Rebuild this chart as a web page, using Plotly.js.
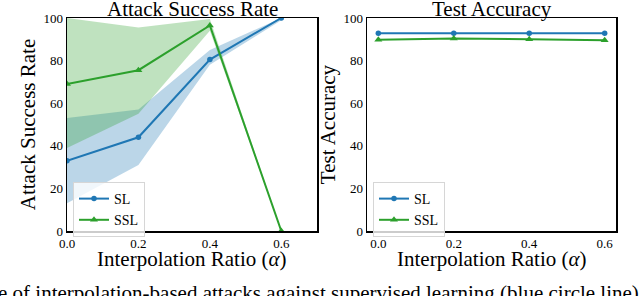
<!DOCTYPE html>
<html>
<head>
<meta charset="utf-8">
<script src="https://cdn.plot.ly/plotly-3.0.1.min.js"></script>
<style>html,body{margin:0;padding:0;background:#fff;}#chart{width:640px;height:296px;}</style>
</head>
<body>
<div id="chart"></div>
<script>
// ---- data ----
const ratios = [0.0, 0.2, 0.4, 0.6];
const xTickVals = [0.0, 0.2, 0.4, 0.6];
const xTickText = ["0.0", "0.2", "0.4", "0.6"];
const yTickVals = [0, 20, 40, 60, 80, 100];
const yTickText = ["0", "20", "40", "60", "80", "100"];

const slAsr = [33, 44, 80.5, 100];
const slAsrLow = [13, 31, 78, 99];
const slAsrHigh = [53, 57, 85, 100];

const sslAsr = [69, 75.5, 96.5, 0];
const sslAsrLow = [39, 55, 94, 0];
const sslAsrHigh = [100, 95.5, 99.5, 0];

const slAcc = [92.8, 92.8, 92.8, 92.8];
const sslAcc = [89.8, 90.4, 90.0, 89.5];

const seriesNames = ["SL", "SSL"];
const panelTitles = ["Attack Success Rate", "Test Accuracy"];
const yTitles = ["Attack Success Rate", "Test Accuracy"];
const xTitle = "Interpolation Ratio (<i>α</i>)";
const captionText = "e of interpolation-based attacks against supervised learning (blue circle line)";

// ---- styles ----
const BLUE = "#1f77b4", GREEN = "#2ca02c";
const BLUE_FILL = "rgba(31,119,180,0.3)", GREEN_FILL = "rgba(44,160,44,0.3)";
const FONT = "'Liberation Serif', 'Times New Roman', serif";

function band(x, lo, hi, fill, xa, ya) {
  return [
    {x: x, y: lo, type: "scatter", mode: "lines", line: {width: 0, color: fill}, showlegend: false, hoverinfo: "skip", xaxis: xa, yaxis: ya},
    {x: x, y: hi, type: "scatter", mode: "lines", line: {width: 0, color: fill}, fill: "tonexty", fillcolor: fill, showlegend: false, hoverinfo: "skip", xaxis: xa, yaxis: ya}
  ];
}
function line(x, y, name, color, symbol, size, xa, ya, lg, show) {
  return {x: x, y: y, name: name, type: "scatter", mode: "lines+markers",
    line: {color: color, width: 2}, marker: {color: color, symbol: symbol, size: size},
    xaxis: xa, yaxis: ya, legend: lg, showlegend: show};
}

const traces = [].concat(
  band(ratios, slAsrLow, slAsrHigh, BLUE_FILL, "x", "y"),
  band(ratios, sslAsrLow, sslAsrHigh, GREEN_FILL, "x", "y"),
  [line(ratios, slAsr, seriesNames[0], BLUE, "circle", 5.5, "x", "y", "legend", true),
   line(ratios, sslAsr, seriesNames[1], GREEN, "triangle-up", 7, "x", "y", "legend", true),
   line(ratios, slAcc, seriesNames[0], BLUE, "circle", 5.5, "x2", "y2", "legend2", true),
   line(ratios, sslAcc, seriesNames[1], GREEN, "triangle-up", 7, "x2", "y2", "legend2", true)]
);

const axisCommon = {
  showline: true, mirror: true, linecolor: "#000", linewidth: 1.5,
  showgrid: false, zeroline: false, ticks: "", tickfont: {family: FONT, size: 13, color: "#000"}
};
const L = 67, R = 24, T = 18, B = 65;
const W = 640, H = 296;
const pw = W - L - R, ph = H - T - B;
const d1 = [0, (317 - L) / pw], d2 = [(367 - L) / pw, 1];

const legendCommon = {
  font: {family: FONT, size: 14, color: "#000"}, bgcolor: "rgba(255,255,255,0.8)",
  bordercolor: "#d6d6d6", borderwidth: 1, xanchor: "left", yanchor: "top",
  traceorder: "normal", tracegroupgap: 0
};

const annFont = function (s) { return {family: FONT, size: s, color: "#000"}; };

const layout = {
  width: W, height: H, margin: {l: L, r: R, t: T, b: B},
  paper_bgcolor: "#fff", plot_bgcolor: "#fff", font: {family: FONT, color: "#000"},
  xaxis: Object.assign({}, axisCommon, {domain: d1, range: [0, 0.7], tickvals: xTickVals, ticktext: xTickText, ticklen: 0}),
  yaxis: Object.assign({}, axisCommon, {range: [0, 100], tickvals: yTickVals, ticktext: yTickText,
    title: {text: yTitles[0], font: {family: FONT, size: 21}, standoff: 2}}),
  xaxis2: Object.assign({}, axisCommon, {domain: d2, anchor: "y2", range: [-0.03, 0.63], tickvals: xTickVals, ticktext: xTickText, ticklen: 0}),
  yaxis2: Object.assign({}, axisCommon, {anchor: "x2", range: [0, 100], tickvals: yTickVals, ticktext: yTickText,
    title: {text: yTitles[1], font: {family: FONT, size: 21}, standoff: 2}}),
  legend: Object.assign({}, legendCommon, {x: (73 - L) / pw, y: (231 - 182) / ph}),
  legend2: Object.assign({}, legendCommon, {x: (373 - L) / pw, y: (231 - 182) / ph}),
  annotations: [
    {text: panelTitles[0], xref: "paper", yref: "paper", x: (d1[0] + d1[1]) / 2, y: 1, xanchor: "center", yanchor: "bottom",
      showarrow: false, font: annFont(21), yshift: -5},
    {text: panelTitles[1], xref: "paper", yref: "paper", x: (d2[0] + d2[1]) / 2, y: 1, xanchor: "center", yanchor: "bottom",
      showarrow: false, font: annFont(21), yshift: -5},
    {text: xTitle, xref: "paper", yref: "paper", x: (d1[0] + d1[1]) / 2, y: (231 - 259) / ph, xanchor: "center", yanchor: "middle",
      showarrow: false, font: annFont(21)},
    {text: xTitle, xref: "paper", yref: "paper", x: (d2[0] + d2[1]) / 2, y: (231 - 259) / ph, xanchor: "center", yanchor: "middle",
      showarrow: false, font: annFont(21)},
    {text: captionText, xref: "paper", yref: "paper", x: (318 - L) / pw, y: (231 - 278.5) / ph, xanchor: "center", yanchor: "top",
      showarrow: false, font: annFont(21)}
  ],
  showlegend: true
};

Plotly.newPlot("chart", traces, layout, {staticPlot: true, displayModeBar: false});
</script>
</body>
</html>
